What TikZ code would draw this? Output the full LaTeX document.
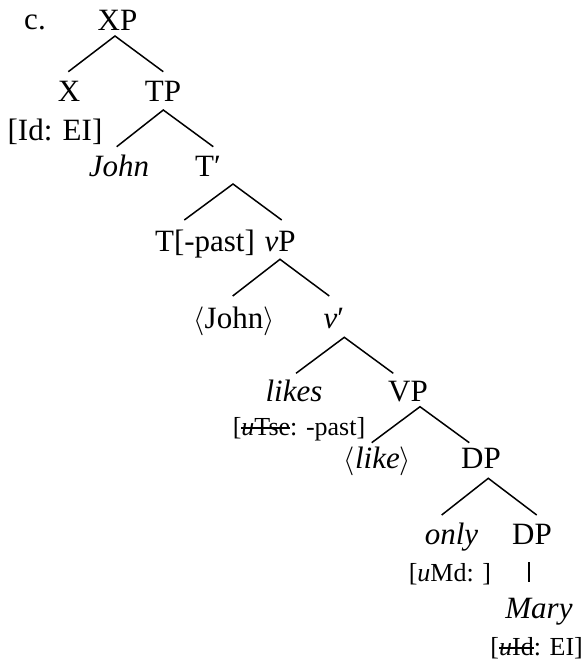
\documentclass[tikz,border=0pt]{standalone}
\usepackage{fontspec}
\setmainfont{Liberation Serif}
\usepackage{tikz}

\newcommand{\strk}[1]{\begingroup\setbox0=\hbox{#1}\rlap{\rule[0.25em]{\wd0}{0.06em}}\box0\endgroup}

\tikzset{
  lab/.style={anchor=base, inner sep=0pt, font=\fontsize{15.5}{18}\selectfont},
  feat/.style={anchor=base, inner sep=0pt, font=\fontsize{13}{15}\selectfont},
  branch/.style={line width=0.75pt}
}

\begin{document}
\begin{tikzpicture}[x=0.5pt, y=-0.5pt]
        \useasboundingbox (0,0) rectangle (586,661);

        % words and labels
        \node[lab] (ex) at (35,29.3) {c.};
        \node[lab] (XP) at (117.5,30) {XP};
        \node[lab] (X) at (69,101.7) {X};
        \node[lab] (TP) at (163,101.7) {TP};
        \node[lab] (Xfeat) at (55,140) {[Id: EI]};
        \node[lab] (John) at (119,176.7) {\textit{John}};
        \node[lab] (Tbar) at (208,176.7) {T′};
        \node[lab] (T) at (205,251.7) {T[-past]};
        \node[lab] (vP) at (280,251.7) {\textit{v}P};
        \node[lab] (Johnc) at (234,328) {$\langle$John$\rangle$};
        \node[lab] (vbar) at (334,328) {\textit{v}′};
        \node[lab] (likes) at (294,401.7) {\textit{likes}};
        \node[feat] (likesfeat) at (299,435) {[\strk{\textit{u}Tse}: -past]};
        \node[lab] (VP) at (408,401.7) {VP};
        \node[lab] (likec) at (377.5,468) {$\langle$\textit{like}$\rangle$};
        \node[lab] (DP) at (481,468) {DP};
        \node[lab] (only) at (451.5,544) {\textit{only}};
        \node[feat] (onlyfeat) at (450,581.7) {[\textit{u}Md: ]};
        \node[lab] (DPb) at (532,544) {DP};
        \node[lab] (Mary) at (539,618.3) {\textit{Mary}};
        \node[feat] (Maryfeat) at (536.7,655) {[\strk{\textit{u}Id}: EI]};

        % branch points
        \coordinate (XP-a) at (115,36);
        \coordinate (X-e) at (68.3,71.7);
        \coordinate (TP-e) at (163.3,71.7);
        \coordinate (TP-a) at (163.3,110);
        \coordinate (John-e) at (116.7,146.7);
        \coordinate (Tbar-e) at (213.3,146.7);
        \coordinate (Tbar-a) at (233,184);
        \coordinate (T-e) at (184.3,220);
        \coordinate (vP-e) at (281.7,220);
        \coordinate (vP-a) at (280,259.3);
        \coordinate (Johnc-e) at (232.7,296);
        \coordinate (vbar-e) at (329.3,296);
        \coordinate (vbar-a) at (344.3,337.3);
        \coordinate (likes-e) at (296,373.3);
        \coordinate (VP-e) at (393.3,373.3);
        \coordinate (VP-a) at (420,406.7);
        \coordinate (likec-e) at (371.7,442.7);
        \coordinate (DP-e) at (469.3,442.7);
        \coordinate (DP-a) at (488.3,478.3);
        \coordinate (only-e) at (441.7,515);
        \coordinate (DPb-e) at (536.7,515);
        \coordinate (DPb-a) at (529,562);
        \coordinate (Mary-e) at (529,582);

        % branches
        \draw[branch] (X-e) -- (XP-a) -- (TP-e);
        \draw[branch] (John-e) -- (TP-a) -- (Tbar-e);
        \draw[branch] (T-e) -- (Tbar-a) -- (vP-e);
        \draw[branch] (Johnc-e) -- (vP-a) -- (vbar-e);
        \draw[branch] (likes-e) -- (vbar-a) -- (VP-e);
        \draw[branch] (likec-e) -- (VP-a) -- (DP-e);
        \draw[branch] (only-e) -- (DP-a) -- (DPb-e);
        \draw[branch] (DPb-a) -- (Mary-e);
    \end{tikzpicture}
\end{document}
